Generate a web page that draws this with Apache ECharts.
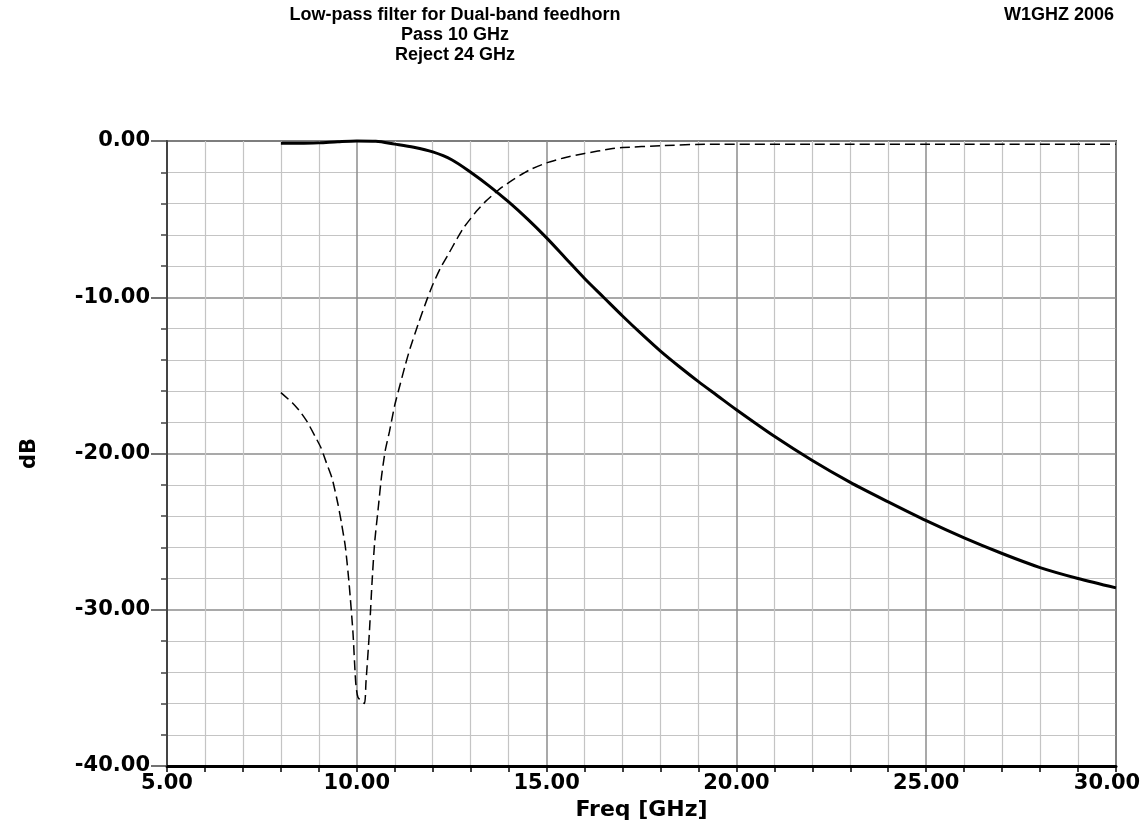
<!DOCTYPE html>
<html>
<head>
<meta charset="utf-8">
<script src="https://cdn.jsdelivr.net/npm/echarts@6/dist/echarts.min.js"></script>
<style>
html,body{margin:0;padding:0;background:#fff;}
#chart{width:1144px;height:825px;}
</style>
</head>
<body>
<div id="chart"></div>
<script>
// ---- data ----
var titleLines = ['Low-pass filter for Dual-band feedhorn', 'Pass 10 GHz', 'Reject 24 GHz'];
var cornerNote = 'W1GHZ 2006';
var xName = 'Freq [GHz]';
var yName = 'dB';

// Insertion loss (solid, thick)
var s21Freq = [8.0, 8.5, 9.0, 9.5, 10.0, 10.5, 11.0, 11.5, 12.0, 12.5, 13.0, 13.5, 14.0, 14.5, 15.0, 15.5, 16.0, 16.5, 17.0, 17.5, 18.0, 18.5, 19.0, 19.5, 20.0, 21.0, 22.0, 23.0, 24.0, 25.0, 26.0, 27.0, 28.0, 29.0, 30.0];
var s21dB   = [-0.15, -0.15, -0.12, -0.05, 0, -0.02, -0.2, -0.4, -0.7, -1.2, -2.0, -2.9, -3.9, -5.0, -6.2, -7.5, -8.8, -10.0, -11.2, -12.35, -13.45, -14.45, -15.4, -16.3, -17.2, -18.9, -20.45, -21.85, -23.1, -24.3, -25.4, -26.4, -27.3, -28.0, -28.6];

// Return loss (dashed, thin)
var s11Freq = [8.0, 8.3, 8.5, 8.7, 8.9, 9.05, 9.2, 9.35, 9.5, 9.6, 9.7, 9.8, 9.9, 9.97, 10.03, 10.2, 10.24, 10.33, 10.4, 10.47, 10.56, 10.65, 10.75, 10.86, 11.0, 11.15, 11.27, 11.4, 11.62, 11.84, 12.0, 12.2, 12.4, 12.63, 12.8, 13.15, 13.4, 13.75, 14.1, 14.55, 15.0, 15.5, 16.0, 16.7, 17.0, 18.0, 19.3, 22.0, 26.0, 30.0];
var s11dB   = [-16.1, -16.75, -17.3, -18.0, -18.9, -19.6, -20.6, -21.6, -23.2, -24.5, -26.0, -28.4, -31.5, -34.6, -35.6, -36.0, -34.7, -31.5, -28.3, -25.7, -23.6, -21.5, -19.8, -18.6, -16.9, -15.5, -14.4, -13.3, -11.7, -10.2, -9.2, -8.15, -7.3, -6.3, -5.6, -4.5, -3.85, -3.1, -2.5, -1.85, -1.4, -1.05, -0.8, -0.5, -0.42, -0.3, -0.2, -0.2, -0.2, -0.2];

var xMin = 5, xMax = 30, xStep = 5;
var yMin = -40, yMax = 0, yStep = 10;

function zip(a, b) { return a.map(function (v, i) { return [v, b[i]]; }); }

var labelFont = 'DejaVu Sans';
var chart = echarts.init(document.getElementById('chart'), null, {renderer: 'canvas'});
chart.setOption({
  animation: false,
  backgroundColor: '#ffffff',
  graphic: [
    {type: 'text', x: 455, y: 5, style: {text: titleLines.join('\n'), textAlign: 'center', fill: '#000', font: 'bold 18px "Liberation Sans", Arial', lineHeight: 20}},
    {type: 'text', x: 1114, y: 5, style: {text: cornerNote, textAlign: 'right', fill: '#000', font: 'bold 18px "Liberation Sans", Arial', lineHeight: 20}}
  ],
  grid: {left: 167, right: 28, top: 141, bottom: 59, show: true, borderColor: '#555', borderWidth: 2, backgroundColor: 'transparent', outerBoundsMode: 'none', containLabel: false},
  xAxis: {
    type: 'value', min: xMin, max: xMax, interval: xStep,
    name: xName, nameLocation: 'middle', nameGap: 27,
    nameTextStyle: {fontFamily: labelFont, fontWeight: 'bold', fontSize: 22, color: '#000'},
    axisLine: {show: true, onZero: false, lineStyle: {color: '#000', width: 3}},
    axisTick: {show: true, inside: false, length: 6, lineStyle: {color: '#000', width: 1.5}},
    minorTick: {show: true, splitNumber: 5, length: 6, lineStyle: {color: '#000', width: 1.5}},
    axisLabel: {margin: 7, fontFamily: labelFont, fontWeight: 'bold', fontSize: 21, color: '#000', hideOverlap: false,
      formatter: function (v) { return v === xMax ? '{last|' + v.toFixed(2) + '}' : v.toFixed(2); },
      rich: {last: {fontFamily: labelFont, fontWeight: 'bold', fontSize: 21, color: '#000', padding: [0, 18, 0, 0]}}},
    splitLine: {show: true, lineStyle: {color: '#8c8c8c', width: 1.5}},
    minorSplitLine: {show: true, lineStyle: {color: '#c4c4c4', width: 1.2}}
  },
  yAxis: {
    type: 'value', min: yMin, max: yMax, interval: yStep,
    name: yName, nameLocation: 'middle', nameGap: 127, nameRotate: 90,
    nameTextStyle: {fontFamily: labelFont, fontWeight: 'bold', fontSize: 21, color: '#000'},
    axisLine: {show: true, onZero: false, lineStyle: {color: '#444', width: 2}},
    axisTick: {show: true, inside: false, length: 16, lineStyle: {color: '#444', width: 1.5}},
    minorTick: {show: true, splitNumber: 5, length: 6, lineStyle: {color: '#444', width: 1.5}},
    axisLabel: {margin: 17, fontFamily: labelFont, fontWeight: 'bold', fontSize: 21, color: '#000', formatter: function (v) { return v.toFixed(2); }},
    splitLine: {show: true, lineStyle: {color: '#8c8c8c', width: 1.5}},
    minorSplitLine: {show: true, lineStyle: {color: '#c4c4c4', width: 1.2}}
  },
  series: [
    {type: 'line', name: 'S21', data: zip(s21Freq, s21dB), smooth: 0.3, showSymbol: false, clip: false,
     lineStyle: {color: '#000', width: 3}},
    {type: 'line', name: 'S11', data: zip(s11Freq, s11dB), smooth: 0.2, showSymbol: false, clip: false,
     lineStyle: {color: '#000', width: 1.5, type: [10, 5]}}
  ]
});
</script>
</body>
</html>
